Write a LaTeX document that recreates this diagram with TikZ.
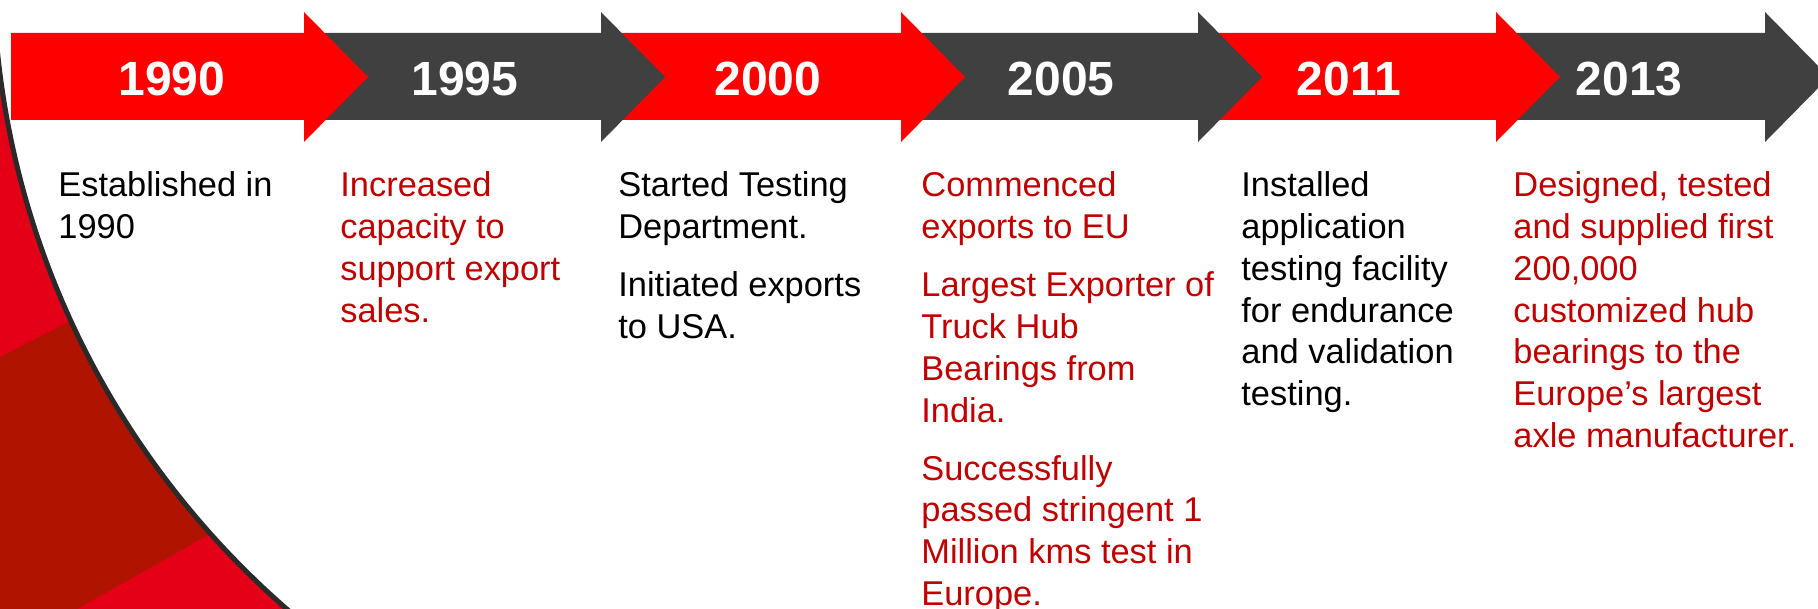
\documentclass[tikz,border=0pt]{standalone}
\usepackage{fontspec}
\setmainfont{Liberation Sans}
\definecolor{arrowred}{RGB}{255,0,0}
\definecolor{arrowgray}{RGB}{64,64,64}
\definecolor{txtred}{RGB}{192,0,0}
\definecolor{bgred}{RGB}{228,0,22}
\definecolor{bgdark}{RGB}{176,20,0}
\definecolor{rimgray}{RGB}{42,42,42}
\newcommand{\txline}[1]{\hbox{#1}}
\newcommand{\pgap}{\vskip 8.25pt}
\tikzset{
  yearlabel/.style={text=white, inner sep=0pt, anchor=base,
    font=\fontsize{24pt}{28pt}\selectfont\bfseries},
  bodytext/.style={inner sep=0pt, anchor=base west,
    font=\fontsize{17.2pt}{20.85pt}\selectfont},
  redtext/.style={bodytext, text=txtred},
  blacktext/.style={bodytext, text=black},
}
\begin{document}
\begin{tikzpicture}[x=0.5pt,y=-0.5pt]
\useasboundingbox (0,0) rectangle (1818,609);
\begin{scope}
\clip (0,0) rectangle (420,609);
% background facets
\fill[bgred] (0,0) rectangle (420,609);
\fill[bgdark] (0,357) -- (100,306) -- (240,517) -- (77,609) -- (0,609) -- cycle;
\fill[white, draw=rimgray, line width=2.5pt] (848,-36) circle (855);
\end{scope}
\begin{scope}
\clip (0,0) rectangle (1818,609);
% arrows, drawn last to first
\fill[arrowgray] (1496,33) -- (1765,33) -- (1765,12) -- (1829,77) -- (1765,142) -- (1765,120) -- (1496,120) -- cycle;
\fill[arrowred]  (1198,33) -- (1496,33) -- (1496,12) -- (1560,77) -- (1496,142) -- (1496,120) -- (1198,120) -- cycle;
\fill[arrowgray] (901,33) -- (1198,33) -- (1198,12) -- (1262,77) -- (1198,142) -- (1198,120) -- (901,120) -- cycle;
\fill[arrowred]  (601,33) -- (901,33) -- (901,12) -- (965,77) -- (901,142) -- (901,120) -- (601,120) -- cycle;
\fill[arrowgray] (304,33) -- (601,33) -- (601,12) -- (665,77) -- (601,142) -- (601,120) -- (304,120) -- cycle;
\fill[arrowred]  (11,33) -- (304,33) -- (304,12) -- (368,77) -- (304,142) -- (304,120) -- (11,120) -- cycle;
\end{scope}
% year labels
\node[yearlabel] (y1990) at (172,96) {1990};
\node[yearlabel] (y1995) at (465,96) {1995};
\node[yearlabel] (y2000) at (768,96) {2000};
\node[yearlabel] (y2005) at (1061,96) {2005};
\node[yearlabel] (y2011) at (1349,96) {2011};
\node[yearlabel] (y2013) at (1629,96) {2013};
% descriptions
\node[blacktext] (t1990) at (58,197) {\vtop{\txline{Established in}\txline{1990}}};
\node[redtext] (t1995) at (340,197) {\vtop{\txline{Increased}\txline{capacity to}\txline{support export}\txline{sales.}}};
\node[blacktext] (t2000) at (618,197) {\vtop{\txline{Started Testing}\txline{Department.}\pgap\txline{Initiated exports}\txline{to USA.}}};
\node[redtext] (t2005) at (921,197) {\vtop{\txline{Commenced}\txline{exports to EU}\pgap\txline{Largest Exporter of}\txline{Truck Hub}\txline{Bearings from}\txline{India.}\pgap\txline{Successfully}\txline{passed stringent 1}\txline{Million kms test in}\txline{Europe.}}};
\node[blacktext] (t2011) at (1241,197) {\vtop{\txline{Installed}\txline{application}\txline{testing facility}\txline{for endurance}\txline{and validation}\txline{testing.}}};
\node[redtext] (t2013) at (1513,197) {\vtop{\txline{Designed, tested}\txline{and supplied first}\txline{200,000}\txline{customized hub}\txline{bearings to the}\txline{Europe’s largest}\txline{axle manufacturer.}}};
\end{tikzpicture}
\end{document}
